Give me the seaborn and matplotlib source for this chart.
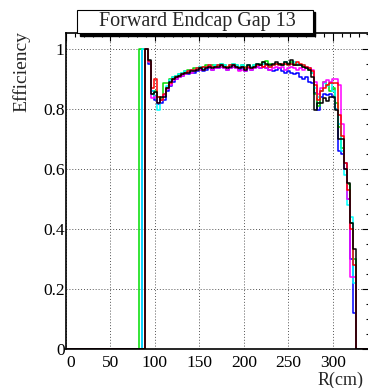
import numpy as np
import pandas as pd
import matplotlib
matplotlib.use("Agg")
import matplotlib.pyplot as plt
from matplotlib.patches import Rectangle
from matplotlib.ticker import MultipleLocator, FuncFormatter
import seaborn as sns

# ---------------- data ----------------
R_MIN, R_MAX, N_BINS = 0.0, 340.0, 100
X_VIEW_MAX = 342.0
FIRST_BIN = 23  # first listed bin index; all earlier / later bins are empty

series_names = ["black", "red", "magenta", "cyan", "green", "blue"]
series_colors = ["#000000", "#ff0000", "#ff00ff", "#00ffff", "#00dd00", "#0000ff"]

eff_black = [0, 0, 0, 1.0, 0.963, 0.85, 0.855, 0.82, 0.84, 0.84, 0.87, 0.89, 0.90, 0.905, 0.91, 0.915, 0.92, 0.92, 0.925,
             0.925, 0.93, 0.935, 0.93, 0.935, 0.94, 0.935, 0.94,
             0.94, 0.945, 0.94, 0.935, 0.94, 0.945, 0.94, 0.935, 0.94, 0.93,
             0.945, 0.935, 0.94, 0.95, 0.945, 0.955, 0.95, 0.945, 0.95, 0.955,
             0.95, 0.945, 0.955, 0.95, 0.963, 0.947, 0.945, 0.945, 0.94, 0.937,
             0.93, 0.907, 0.797, 0.82, 0.82, 0.837, 0.827, 0.84, 0.84, 0.797, 0.70, 0.70, 0.60, 0.553, 0.42, 0.333, 0.0]
eff_blue = [0, 0, 1.0, 1.0, 0.95, 0.86, 0.83, 0.815, 0.82, 0.83, 0.86, 0.875, 0.89, 0.90, 0.905, 0.91, 0.915, 0.915, 0.92,
            0.92, 0.925, 0.93, 0.925, 0.93, 0.935, 0.93, 0.935,
            0.935, 0.94, 0.935, 0.93, 0.935, 0.94, 0.935, 0.93, 0.935, 0.925,
            0.935, 0.93, 0.935, 0.94, 0.935, 0.94, 0.935, 0.93, 0.925, 0.93,
            0.935, 0.925, 0.92, 0.925, 0.92, 0.915, 0.92, 0.905, 0.90, 0.905,
            0.89, 0.885, 0.853, 0.797, 0.84, 0.85, 0.845, 0.85, 0.84, 0.80, 0.66, 0.65, 0.62, 0.50, 0.30, 0.12, 0.0]
eff_cyan = [0, 0, 1.0, 1.0, 0.96, 0.86, 0.84, 0.797, 0.83, 0.85, 0.875, 0.895, 0.905, 0.91, 0.915, 0.92, 0.925, 0.925, 0.93,
            0.93, 0.935, 0.94, 0.935, 0.94, 0.945, 0.94, 0.945,
            0.945, 0.95, 0.945, 0.94, 0.945, 0.95, 0.945, 0.94, 0.945, 0.935,
            0.945, 0.94, 0.945, 0.95, 0.945, 0.95, 0.945, 0.94, 0.945, 0.95,
            0.945, 0.95, 0.955, 0.945, 0.95, 0.955, 0.95, 0.945, 0.945, 0.94,
            0.935, 0.92, 0.87, 0.84, 0.86, 0.887, 0.875, 0.887, 0.86, 0.80, 0.75, 0.66, 0.58, 0.48, 0.44, 0.22, 0.0]
eff_green = [0, 1.0, 1.0, 1.0, 0.955, 0.85, 0.86, 0.84, 0.835, 0.887, 0.887, 0.90, 0.905, 0.91, 0.915, 0.92, 0.925, 0.93, 0.93,
             0.935, 0.935, 0.94, 0.94, 0.945, 0.94, 0.945, 0.945,
             0.945, 0.95, 0.945, 0.94, 0.945, 0.95, 0.945, 0.94, 0.945, 0.94,
             0.945, 0.94, 0.945, 0.95, 0.95, 0.955, 0.96, 0.95, 0.945, 0.95,
             0.95, 0.945, 0.955, 0.95, 0.955, 0.95, 0.945, 0.945, 0.94, 0.935,
             0.93, 0.92, 0.85, 0.81, 0.86, 0.89, 0.88, 0.86, 0.87, 0.82, 0.74, 0.67, 0.60, 0.55, 0.42, 0.30, 0.0]
eff_red = [0, 0, 0, 1.0, 0.96, 0.87, 0.90, 0.84, 0.83, 0.85, 0.87, 0.885, 0.90, 0.905, 0.91, 0.915, 0.92, 0.925, 0.93,
           0.93, 0.935, 0.935, 0.94, 0.94, 0.945, 0.94, 0.94,
           0.945, 0.945, 0.94, 0.94, 0.945, 0.945, 0.94, 0.935, 0.94, 0.935,
           0.94, 0.935, 0.94, 0.945, 0.945, 0.94, 0.945, 0.94, 0.945, 0.95,
           0.945, 0.95, 0.95, 0.945, 0.95, 0.945, 0.955, 0.95, 0.945, 0.94,
           0.935, 0.925, 0.88, 0.83, 0.86, 0.87, 0.88, 0.887, 0.887, 0.887, 0.78, 0.71, 0.62, 0.53, 0.40, 0.28, 0.0]
eff_magenta = [0, 0, 0, 1.0, 0.955, 0.837, 0.84, 0.82, 0.83, 0.845, 0.865, 0.88, 0.895, 0.90, 0.905, 0.91, 0.915, 0.92, 0.92,
               0.925, 0.93, 0.93, 0.93, 0.935, 0.935, 0.93, 0.935,
               0.935, 0.94, 0.935, 0.93, 0.935, 0.94, 0.935, 0.925, 0.93, 0.925,
               0.935, 0.93, 0.935, 0.94, 0.935, 0.94, 0.935, 0.93, 0.935, 0.94,
               0.935, 0.94, 0.93, 0.935, 0.94, 0.935, 0.93, 0.935, 0.93, 0.94,
               0.935, 0.93, 0.89, 0.85, 0.87, 0.89, 0.895, 0.89, 0.90, 0.90, 0.88, 0.75, 0.60, 0.50, 0.24, 0.24, 0.0]

series_values = {"black": eff_black, "red": eff_red, "magenta": eff_magenta,
                 "cyan": eff_cyan, "green": eff_green, "blue": eff_blue}

x_ticks = [0, 50, 100, 150, 200, 250, 300]
y_ticks = [0, 0.2, 0.4, 0.6, 0.8, 1.0]
title_text = "Forward Endcap Gap 13"
x_label = "R(cm)"
y_label = "Efficiency"

# ---------------- build long table ----------------
edges = np.linspace(R_MIN, R_MAX, N_BINS + 1)
centers = 0.5 * (edges[:-1] + edges[1:])
rows = []
for name in series_names:
    full = np.zeros(N_BINS)
    vals = np.asarray(series_values[name], dtype=float)
    full[FIRST_BIN:FIRST_BIN + len(vals)] = vals
    for c, v in zip(centers, full):
        rows.append({"R": c, "eff": v, "series": name})
df = pd.DataFrame(rows)

# ---------------- figure ----------------
sns.set_style("white")
plt.rcParams["font.family"] = ["Liberation Serif", "DejaVu Serif"]

W, H = 368, 388
fig = plt.figure(figsize=(W / 100, H / 100), dpi=100)
ax = fig.add_axes([66 / W, 39 / H, (370 - 66) / W, 316 / H])

sns.histplot(data=df, x="R", weights="eff", hue="series", hue_order=series_names,
             palette=dict(zip(series_names, series_colors)), bins=[float(e) for e in edges],
             element="step", fill=False, linewidth=1.1, legend=False, ax=ax)

ax.set_xlim(R_MIN, X_VIEW_MAX)
ax.set_ylim(0, 1.053)
ax.set_xlabel("")
ax.set_ylabel("")

ax.xaxis.set_minor_locator(MultipleLocator(10))
ax.yaxis.set_minor_locator(MultipleLocator(0.05))
ax.set_xticks(x_ticks)
ax.set_yticks(y_ticks)
ax.yaxis.set_major_formatter(FuncFormatter(lambda v, p: "%g" % round(v, 2)))

ax.tick_params(which="both", direction="in", top=True, right=True, colors="black",
               labelsize=12.5)
ax.tick_params(which="major", length=6, width=0.8)
ax.tick_params(which="minor", length=3, width=0.8)
ax.tick_params(axis="x", pad=4)
ax.tick_params(axis="y", pad=1)
fig.canvas.draw()
ax.get_xticklabels()[0].set_horizontalalignment("left")

ax.grid(True, which="major", color="#555555", linestyle=(0, (1, 2)), linewidth=0.7)
ax.set_axisbelow(True)
for s in ax.spines.values():
    s.set_color("black")
    s.set_linewidth(1.2)
    s.set_zorder(5)

# title box with shadow
fig.patches.append(Rectangle((80 / W, 1 - 36 / H), 235 / W, 24 / H, transform=fig.transFigure,
                             facecolor="black", edgecolor="black", zorder=10))
fig.patches.append(Rectangle((77 / W, 1 - 33 / H), 236 / W, 23 / H, transform=fig.transFigure,
                             facecolor="white", edgecolor="black", linewidth=0.8, zorder=11))
fig.text(197 / W, 1 - 21.5 / H, title_text, ha="center", va="center", fontsize=14.5, zorder=12)

fig.text(21 / W, 1 - 71 / H, y_label, rotation=90, ha="center", va="center", fontsize=14)
fig.text(318 / W, 1 - 385 / H, x_label, ha="left", va="baseline", fontsize=13)

fig.savefig("out.png", dpi=100)
